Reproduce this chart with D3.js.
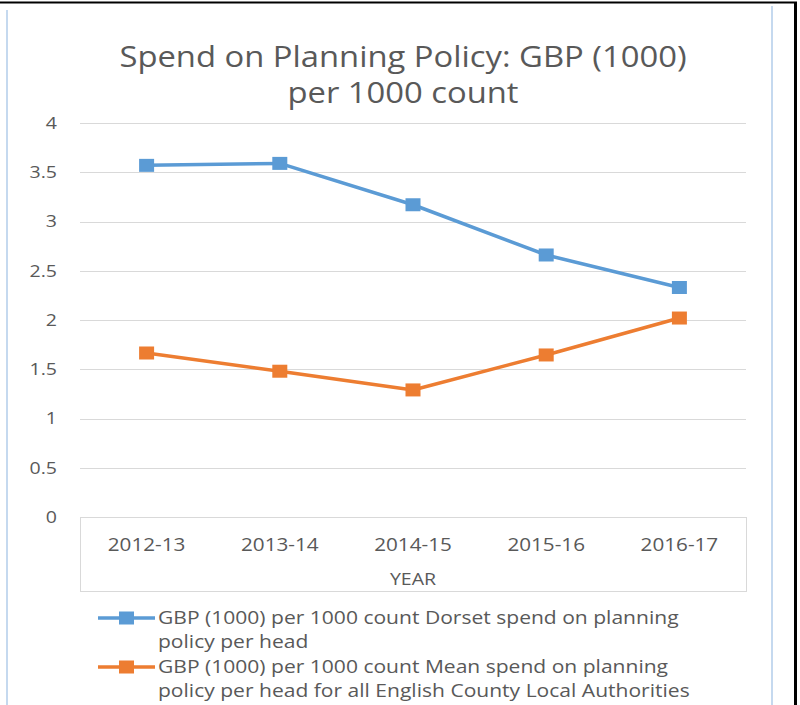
<!DOCTYPE html>
<html>
<head>
<meta charset="utf-8">
<script src="https://cdn.jsdelivr.net/npm/d3@7"></script>
<style>
  body { margin: 0; background: #fff; }
  text { font-family: "Open Sans", "Liberation Sans", sans-serif; }
</style>
</head>
<body>
<div class="chart"></div>
<script>
// chart data
var years = ["2012-13", "2013-14", "2014-15", "2015-16", "2016-17"];
var dorsetSpend = [3.57, 3.59, 3.17, 2.66, 2.33];
var meanSpend = [1.665, 1.48, 1.29, 1.645, 2.02];
var yTicks = [0, 0.5, 1, 1.5, 2, 2.5, 3, 3.5, 4];
var seriesNames = [
  ["GBP (1000) per 1000 count Dorset spend on planning", "policy per head"],
  ["GBP (1000) per 1000 count Mean spend on planning", "policy per head for all English County Local Authorities"]
];
var colors = ["#5b9bd5", "#ed7d31"];

var svgWidth = 800;
var svgHeight = 705;

// the original screenshot is a little wider than tall, so text is stretched
var stretch = 1.15;

var margin = { top: 123, right: 54, bottom: 188, left: 80 };
var width = svgWidth - margin.left - margin.right;
var height = svgHeight - margin.top - margin.bottom;

var svg = d3.select(".chart")
  .append("svg")
  .attr("width", svgWidth)
  .attr("height", svgHeight);

// screenshot frame
svg.append("line").attr("x1", 7).attr("x2", 7).attr("y1", 10).attr("y2", svgHeight)
  .attr("stroke", "#c5d9ef").attr("stroke-width", 2);
svg.append("line").attr("x1", 772).attr("x2", 772).attr("y1", 6).attr("y2", svgHeight)
  .attr("stroke", "#c5d9ef").attr("stroke-width", 2);
svg.append("line").attr("x1", 0).attr("x2", 797).attr("y1", 2.5).attr("y2", 2.5)
  .attr("stroke", "#000").attr("stroke-width", 2);
svg.append("line").attr("x1", 795.5).attr("x2", 795.5).attr("y1", 2).attr("y2", svgHeight)
  .attr("stroke", "#000").attr("stroke-width", 3);

// title
var titleLines = ["Spend on Planning Policy: GBP (1000)", "per 1000 count"];
titleLines.forEach(function(s, i) {
  svg.append("text")
    .attr("transform", `translate(403, ${67 + i * 36}) scale(${stretch}, 1)`)
    .attr("text-anchor", "middle")
    .attr("fill", "#595959")
    .attr("font-size", "28.5px")
    .text(s);
});

var chartGroup = svg.append("g")
  .attr("transform", `translate(${margin.left}, ${margin.top})`);

var xBandScale = d3.scaleBand()
  .domain(years)
  .range([0, width]);

var yLinearScale = d3.scaleLinear()
  .domain([0, 4])
  .range([height, 0]);

// gridlines
chartGroup.append("g")
  .selectAll("line")
  .data(yTicks.slice(1))
  .enter()
  .append("line")
  .attr("x1", 0)
  .attr("x2", width)
  .attr("y1", d => Math.round(yLinearScale(d)) + 0.5)
  .attr("y2", d => Math.round(yLinearScale(d)) + 0.5)
  .attr("stroke", "#d9d9d9");

// y axis
var leftAxis = d3.axisLeft(yLinearScale)
  .tickValues(yTicks)
  .tickFormat(d3.format("~g"))
  .tickSize(0);
var yAxis = chartGroup.append("g").call(leftAxis);
yAxis.select(".domain").remove();
yAxis.selectAll("text")
  .attr("x", 0)
  .attr("transform", `translate(-23, 0) scale(${stretch}, 1)`)
  .attr("fill", "#595959")
  .attr("font-size", "17px")
  .attr("font-family", "Open Sans, Liberation Sans, sans-serif");

// category axis box
chartGroup.append("rect")
  .attr("x", 0.5)
  .attr("y", height + 0.5)
  .attr("width", width)
  .attr("height", 74)
  .attr("fill", "none")
  .attr("stroke", "#d9d9d9");

var bottomAxis = d3.axisBottom(xBandScale).tickSize(0).tickPadding(21);
var xAxis = chartGroup.append("g")
  .attr("transform", `translate(0, ${height})`)
  .call(bottomAxis);
xAxis.select(".domain").remove();
xAxis.selectAll("text")
  .attr("transform", `scale(${stretch}, 1)`)
  .attr("fill", "#595959")
  .attr("font-size", "18px")
  .attr("font-family", "Open Sans, Liberation Sans, sans-serif");

chartGroup.append("text")
  .attr("transform", `translate(${width / 2}, ${height + 68}) scale(${stretch}, 1)`)
  .attr("text-anchor", "middle")
  .attr("fill", "#595959")
  .attr("font-size", "17px")
  .text("YEAR");

// lines and markers
var xCenter = d => xBandScale(d) + xBandScale.bandwidth() / 2;
var allSeries = [dorsetSpend, meanSpend];

allSeries.forEach(function(values, i) {
  var line = d3.line()
    .x((d, j) => xCenter(years[j]))
    .y(d => yLinearScale(d));

  chartGroup.append("path")
    .datum(values)
    .attr("d", line)
    .attr("fill", "none")
    .attr("stroke", colors[i])
    .attr("stroke-width", 3.5)
    .attr("stroke-linejoin", "round");

  chartGroup.selectAll(".marker" + i)
    .data(values)
    .enter()
    .append("rect")
    .attr("class", "marker" + i)
    .attr("x", (d, j) => xCenter(years[j]) - 7.5)
    .attr("y", d => yLinearScale(d) - 6.5)
    .attr("width", 15)
    .attr("height", 13)
    .attr("fill", colors[i]);
});

// legend
var legend = svg.append("g");
var legendY = [618, 667];

seriesNames.forEach(function(lines, i) {
  var g = legend.append("g").attr("transform", `translate(0, ${legendY[i]})`);
  g.append("line")
    .attr("x1", 98).attr("x2", 155)
    .attr("y1", 0).attr("y2", 0)
    .attr("stroke", colors[i])
    .attr("stroke-width", 3.5);
  g.append("rect")
    .attr("x", 119).attr("y", -6.5)
    .attr("width", 15).attr("height", 13)
    .attr("fill", colors[i]);
  lines.forEach(function(s, k) {
    g.append("text")
      .attr("transform", `translate(158, ${6 + k * 24}) scale(${stretch}, 1)`)
      .attr("fill", "#595959")
      .attr("font-size", "18.3px")
      .text(s);
  });
});
</script>
</body>
</html>
